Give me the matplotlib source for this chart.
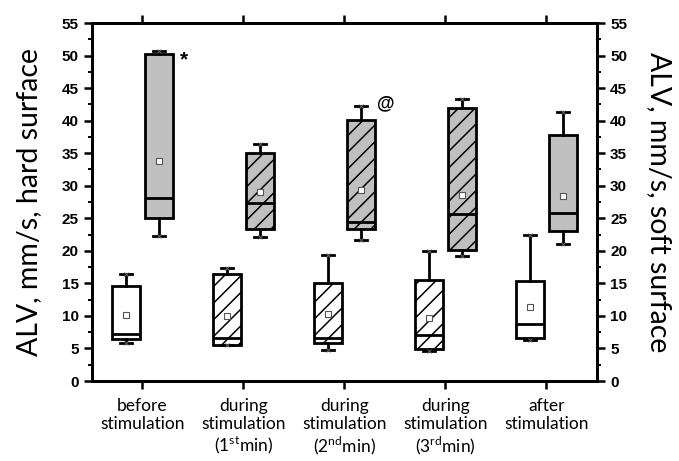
import matplotlib
matplotlib.use("Agg")
import matplotlib.pyplot as plt
from matplotlib.ticker import MultipleLocator

# categories (x axis)
categories = ["before\nstimulation",
              "during\nstimulation\n(1$^{\\rm st}$min)",
              "during\nstimulation\n(2$^{\\rm nd}$min)",
              "during\nstimulation\n(3$^{\\rm rd}$min)",
              "after\nstimulation"]
hatched = [False, True, True, True, False]

# white boxes (lower group)
hard_whislo = [5.8, 5.6, 4.8, 4.65, 6.3]
hard_q1 = [6.45, 5.6, 5.8, 4.9, 6.55]
hard_med = [7.2, 6.65, 6.65, 7.0, 8.7]
hard_q3 = [14.6, 16.5, 15.0, 15.5, 15.4]
hard_whishi = [16.4, 17.3, 19.4, 20.0, 22.5]
hard_mean = [10.2, 10.0, 10.3, 9.7, 11.4]

# gray boxes (upper group)
soft_whislo = [22.3, 22.2, 21.7, 19.2, 21.0]
soft_q1 = [25.0, 23.4, 23.4, 20.2, 23.1]
soft_med = [28.1, 27.4, 24.4, 25.6, 25.8]
soft_q3 = [50.3, 35.1, 40.1, 41.9, 37.8]
soft_whishi = [50.7, 36.4, 42.3, 43.3, 41.4]
soft_mean = [33.8, 29.0, 29.3, 28.6, 28.4]

# significance marks: (category index, value, symbol)
marks = [(0, 49.4, "*"), (2, 42.6, "@")]

plt.rcParams["mathtext.fontset"] = "custom"
plt.rcParams["mathtext.rm"] = "Lato"
plt.rcParams["hatch.linewidth"] = 1.1

fig = plt.figure(figsize=(6.79, 4.61), dpi=100)
ax = fig.add_axes([0.1355, 0.1735, 0.7435, 0.7765])

x = list(range(1, len(categories) + 1))
off = 0.165
lw = 2.0


def make_stats(lo, q1, med, q3, hi, mean):
    return [dict(whislo=a, q1=b, med=c, q3=d, whishi=e, mean=f, fliers=[])
            for a, b, c, d, e, f in zip(lo, q1, med, q3, hi, mean)]


groups = [
    (make_stats(hard_whislo, hard_q1, hard_med, hard_q3, hard_whishi, hard_mean), -off, "white"),
    (make_stats(soft_whislo, soft_q1, soft_med, soft_q3, soft_whishi, soft_mean), off, "#c0c0c0"),
]

for stats, dx, fc in groups:
    pos = [p + dx for p in x]
    bp = ax.bxp(stats, positions=pos, widths=0.28, patch_artist=True,
                showmeans=True, showfliers=False,
                boxprops=dict(linewidth=lw, edgecolor="black", facecolor=fc),
                medianprops=dict(color="black", linewidth=lw),
                whiskerprops=dict(color="black", linewidth=lw),
                capprops=dict(color="black", linewidth=lw),
                capwidths=0.12,
                meanprops=dict(marker="s", markersize=4.2, markerfacecolor="white",
                               markeredgecolor="#555555", markeredgewidth=0.8))
    for box, h in zip(bp["boxes"], hatched):
        if h:
            box.set_hatch("//")
    # min / max markers at whisker ends
    ax.plot(pos, [s["whislo"] for s in stats], "x", color="#666666", ms=3, mew=0.7)
    ax.plot(pos, [s["whishi"] for s in stats], "x", color="#666666", ms=3, mew=0.7)

for i, v, s in marks:
    ax.text(x[i] + 0.41, v, s, fontsize=15 if s == "*" else 13, fontweight="bold",
            family="Liberation Sans", ha="center", va="center")

ax.set_xlim(0.5, 5.5)
ax.set_ylim(0, 55)
ax.set_xticks(x)
ax.set_xticklabels(categories, fontsize=12.5, family="Lato", linespacing=1.15)
ax.yaxis.set_major_locator(MultipleLocator(5))
ax.yaxis.set_minor_locator(MultipleLocator(2.5))
ax.tick_params(axis="x", top=True, direction="out", length=6, width=1.8, pad=6)
ax.tick_params(axis="y", which="major", direction="out", length=6, width=1.8)
ax.tick_params(axis="y", which="minor", direction="out", length=3, width=1.4)
for lab in ax.get_yticklabels():
    lab.set_fontweight("bold")
    lab.set_family("Liberation Sans")
    lab.set_fontsize(11)
for sp in ax.spines.values():
    sp.set_linewidth(2.0)
ax.set_ylabel("ALV, mm/s, hard surface", fontsize=20.5, family="Lato", labelpad=14)

ax2 = ax.twinx()
ax2.set_ylim(0, 55)
ax2.yaxis.set_major_locator(MultipleLocator(5))
ax2.yaxis.set_minor_locator(MultipleLocator(2.5))
ax2.tick_params(axis="y", which="major", direction="out", length=6, width=1.8)
ax2.tick_params(axis="y", which="minor", direction="out", length=3, width=1.4)
for lab in ax2.get_yticklabels():
    lab.set_fontweight("bold")
    lab.set_family("Liberation Sans")
    lab.set_fontsize(11)
for sp in ax2.spines.values():
    sp.set_linewidth(2.0)
ax2.set_ylabel("ALV, mm/s, soft surface", fontsize=20.5, family="Lato",
               rotation=270, labelpad=32)

fig.savefig("out.png", dpi=100)
